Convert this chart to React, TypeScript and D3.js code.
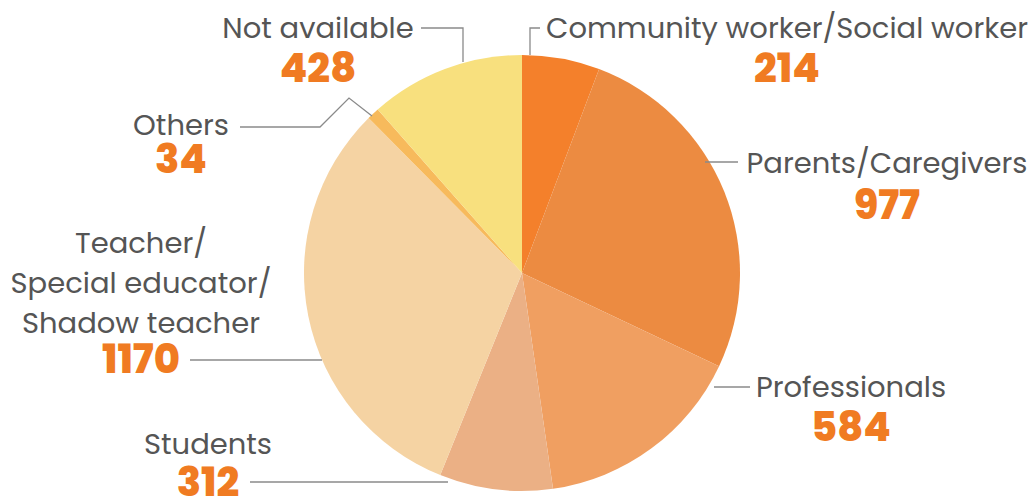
import React from "react";
import * as d3 from "d3";

const categories = [
  "Community worker/Social worker",
  "Parents/Caregivers",
  "Professionals",
  "Students",
  "Teacher/Special educator/Shadow teacher",
  "Others",
  "Not available",
];
const values = [214, 977, 584, 312, 1170, 34, 428];
const labelLines = [
  ["Community worker/Social worker"],
  ["Parents/Caregivers"],
  ["Professionals"],
  ["Students"],
  ["Teacher/", "Special educator/", "Shadow teacher"],
  ["Others"],
  ["Not available"],
];
const colors = ["#F4802B", "#EC8B41", "#F09F61", "#EBB085", "#F5D3A3", "#F7BA5C", "#F8E07E"];

// layout of labels (positions only)
const labelLayout = [
  { y: 38, numY: 82, textX: 787 },
  { y: 173, numY: 219, textX: 887 },
  { y: 397, numY: 441, textX: 851 },
  { y: 454, numY: 496, textX: 208 },
  { y: 253, numY: 373, textX: 141 },
  { y: 135, numY: 173, textX: 181 },
  { y: 38, numY: 82, textX: 318 },
];
const leaderLines = [
  [[540, 28], [530, 28], [530, 55]],
  [[738, 162], [705, 162]],
  [[750, 387], [714, 387]],
  [[250, 482], [448, 482]],
  [[190, 360], [322, 360]],
  [[240, 127], [320, 127], [349, 98], [372, 116]],
  [[421, 28], [463, 28], [463, 62]],
];

const W = 1035;
const H = 498;
const cx = 522;
const cy = 273;
const R = 218;

export default function App() {
  const pie = d3.pie<number>().sort(null).value((d) => d)(values);
  const arc = d3.arc<d3.PieArcDatum<number>>().innerRadius(0).outerRadius(R);
  const line = d3.line();
  const labelFont = "'Poppins', 'DejaVu Sans', sans-serif";
  return (
    <svg width={W} height={H} style={{ position: "absolute", left: 0, top: 0, background: "#fff" }}>
      <g transform={`translate(${cx},${cy})`}>
        {pie.map((p, i) => (
          <path key={categories[i]} d={arc(p) || ""} fill={colors[i]} />
        ))}
      </g>
      {leaderLines.map((pts, i) => (
        <path key={"l" + i} d={line(pts as [number, number][]) || ""} fill="none" stroke="#8a8a8a" strokeWidth={1.3} />
      ))}
      {labelLines.map((lines, i) => {
        const L = labelLayout[i];
        return (
          <g key={"t" + i}>
            {lines.map((t, j) => (
              <text
                key={j}
                x={L.textX}
                y={L.y + j * 40}
                textAnchor="middle"
                fontFamily={labelFont}
                fontSize={29}
                fill="#555555"
              >
                {t}
              </text>
            ))}
            <text
              x={L.textX}
              y={L.numY}
              textAnchor="middle"
              fontFamily={labelFont}
              fontWeight={800}
              fontSize={40}
              fill="#F07B22"
            >
              {values[i]}
            </text>
          </g>
        );
      })}
    </svg>
  );
}
